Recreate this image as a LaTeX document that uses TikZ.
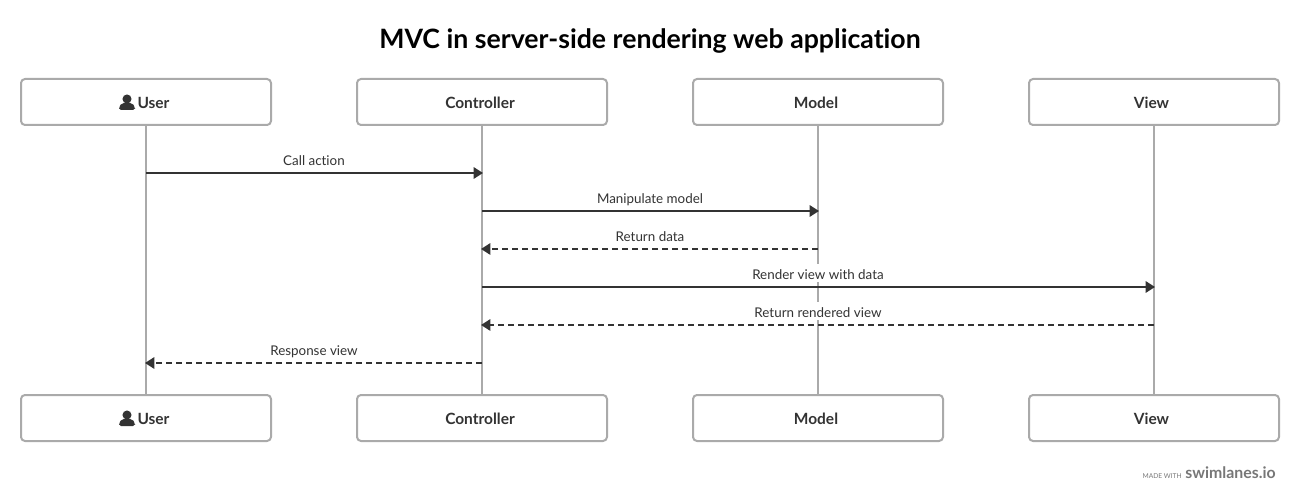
\documentclass[tikz,border=0pt]{standalone}
\usepackage{fontspec}
\setmainfont{Lato}[Ligatures=NoCommon]
\usetikzlibrary{positioning}
\usetikzlibrary{arrows.meta}
\definecolor{inkdark}{HTML}{333333}
\definecolor{lanegray}{HTML}{AAAAAA}
\definecolor{markgray}{HTML}{777777}
\tikzset{
	headbox/.style={draw=lanegray, line width=1.5pt, rounded corners=3pt, fill=white, minimum width=187.5pt, minimum height=34.5pt, inner sep=0pt},
	headtext/.style={text=inkdark, font=\bfseries\fontsize{11.6pt}{14pt}\selectfont, inner sep=0pt},
	lifeline/.style={draw=lanegray, line width=1.5pt},
	callmsg/.style={draw=inkdark, line width=1.5pt, shorten >=-0.75pt, -{Triangle[length=7pt, width=8.5pt]}},
	backmsg/.style={callmsg, dash pattern=on 4.5pt off 3pt},
	msglabel/.style={midway, above=3pt, fill=white, text=inkdark, font=\fontsize{10.05pt}{12pt}\selectfont, inner sep=0pt, text height=11.6pt, text depth=1.9pt},
	personicon/.pic={
		\fill[inkdark] (0,-3) circle (3.4pt);
		\fill[inkdark, rounded corners=1.4pt] (-8,8) -- (-8,5) -- (-5,1) -- (5,1) -- (8,5) -- (8,8) -- cycle;
	}
}
\begin{document}
\begin{tikzpicture}[x=0.75pt, y=-0.75pt]
	\useasboundingbox (0,0) rectangle (1300,502);
	\node[text=black, font=\bfseries\fontsize{20pt}{24pt}\selectfont, inner sep=0pt] (title) at (650,41) {MVC in server-side rendering web application};

	\node[headbox] (user top) at (146,102) {};
	\node[headbox] (controller top) at (482,102) {};
	\node[headbox] (model top) at (818,102) {};
	\node[headbox] (view top) at (1154,102) {};
	\node[headbox] (user bottom) at (146,418) {};
	\node[headbox] (controller bottom) at (482,418) {};
	\node[headbox] (model bottom) at (818,418) {};
	\node[headbox] (view bottom) at (1154,418) {};

	\node[headtext] (user top text) at (153.5,103) {User};
	\node[headtext] (controller top text) at (480,103) {Controller};
	\node[headtext] (model top text) at (816,103) {Model};
	\node[headtext] (view top text) at (1151.5,103) {View};
	\node[headtext] (user bottom text) at (153.5,419) {User};
	\node[headtext] (controller bottom text) at (480,419) {Controller};
	\node[headtext] (model bottom text) at (816,419) {Model};
	\node[headtext] (view bottom text) at (1151.5,419) {View};
	\pic at (127,102) {personicon};
	\pic at (127,418) {personicon};

	\draw[lifeline] (user top) -- (user bottom);
	\draw[lifeline] (controller top) -- (controller bottom);
	\draw[lifeline] (model top) -- (model bottom);
	\draw[lifeline] (view top) -- (view bottom);

	\coordinate (user call) at (146,173);
	\coordinate (controller call) at (482,173);
	\coordinate (controller change) at (482,211);
	\coordinate (model change) at (818,211);
	\coordinate (model return) at (818,249);
	\coordinate (controller data) at (482,249);
	\coordinate (controller render) at (482,287);
	\coordinate (view render) at (1154,287);
	\coordinate (view return) at (1154,325);
	\coordinate (controller view) at (482,325);
	\coordinate (controller response) at (482,363);
	\coordinate (user response) at (146,363);

	\draw[callmsg] (user call) -- (controller call) node[msglabel] (call text) {Call action};
	\draw[callmsg] (controller change) -- (model change) node[msglabel] (change text) {Manipulate model};
	\draw[backmsg] (model return) -- (controller data) node[msglabel] (data text) {Return data};
	\draw[callmsg] (controller render) -- (view render) node[msglabel] (render text) {Render view with data};
	\draw[backmsg] (view return) -- (controller view) node[msglabel] (view text) {Return rendered view};
	\draw[backmsg] (controller response) -- (user response) node[msglabel] (response text) {Response view};

	\node[text=markgray, font=\bfseries\fontsize{11.9pt}{14pt}\selectfont, inner sep=0pt, anchor=east] (brand) at (1276,473) {swimlanes.io};
	\node[text=markgray, font=\fontsize{5pt}{6pt}\selectfont, inner sep=0pt, anchor=east] (made) at (1182,476) {MADE WITH};
\end{tikzpicture}
\end{document}
